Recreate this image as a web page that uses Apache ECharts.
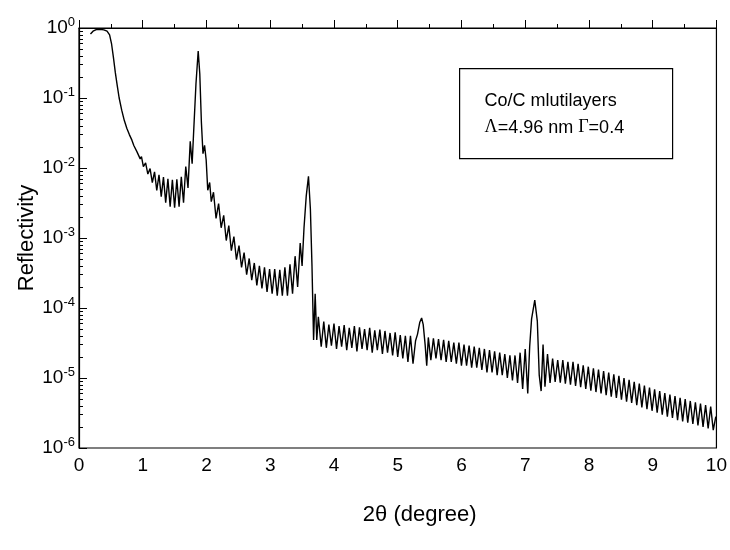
<!DOCTYPE html>
<html>
<head>
<meta charset="utf-8">
<script src="https://cdn.jsdelivr.net/npm/echarts@6/dist/echarts.min.js"></script>
<style>
  html, body { margin: 0; padding: 0; background: #fff; }
  #chart { width: 730px; height: 550px; }
</style>
</head>
<body>
<div id="chart"></div>
<script>
// X-ray reflectivity of a Co/C multilayer: [2theta (deg), reflectivity]

// total external reflection plateau and the fall past the critical angle
const criticalRegion = [
  [0.18,0.82],[0.22,0.90],[0.27,0.95],[0.33,0.96],[0.39,0.94],[0.44,0.90],[0.48,0.80],
  [0.51,0.60],[0.54,0.38],[0.57,0.23],[0.60,0.15],[0.63,0.10],[0.67,0.067],[0.71,0.048],
  [0.75,0.037],[0.79,0.030],[0.83,0.025],[0.86,0.021],[0.88,0.022],[0.91,0.017],
  [0.93,0.018],[0.96,0.0135],[0.98,0.0145]
];

// fringes leading into the 1st order Bragg peak
const firstOrder = [
  [1.01,0.0105],[1.045,0.0118],[1.08,0.0082],[1.115,0.0098],[1.15,0.0062],[1.185,0.0088],
  [1.22,0.0048],[1.255,0.0080],[1.29,0.0039],[1.325,0.0074],[1.36,0.0032],[1.395,0.0070],
  [1.43,0.0028],[1.465,0.0068],[1.50,0.0027],[1.535,0.0069],[1.57,0.0028],[1.605,0.0075],
  [1.64,0.0032],[1.675,0.0105],[1.71,0.0052],[1.745,0.024],[1.775,0.0115],[1.80,0.035],
  [1.835,0.16],[1.87,0.47],[1.895,0.22],[1.92,0.045],[1.945,0.016],[1.97,0.021],
  [1.995,0.013],[2.02,0.0048],[2.05,0.0062],[2.075,0.0033]
];

// Kiessig fringes between the 1st and 2nd order peaks, 2nd order peak
const secondOrder = [
  [2.11,0.0045],[2.15,0.0019],[2.19,0.0031],[2.23,0.0014],[2.27,0.0021],[2.31,0.00092],
  [2.35,0.0015],[2.39,0.00066],[2.43,0.00105],[2.47,0.00049],[2.51,0.00078],[2.55,0.00038],
  [2.59,0.00062],[2.63,0.00030],[2.67,0.00051],[2.71,0.00025],[2.75,0.00044],[2.79,0.00021],
  [2.83,0.00040],[2.87,0.00019],[2.91,0.00038],[2.95,0.00017],[2.99,0.00036],[3.03,0.00016],
  [3.07,0.00036],[3.11,0.00015],[3.15,0.00035],[3.19,0.00015],[3.23,0.00038],[3.27,0.00015],
  [3.31,0.00042],[3.35,0.00016],[3.39,0.00055],[3.43,0.00020],[3.47,0.00085],[3.50,0.00040],
  [3.53,0.0014],[3.565,0.0040],[3.60,0.0076],[3.63,0.0026],[3.655,0.00040],[3.68,0.000035],
  [3.705,0.00016],[3.73,0.000035],[3.755,0.000075]
];

// plateau between the 2nd and 3rd order peaks, weak 3rd order peak
const thirdOrder = [
  [3.80,0.000028],[3.84,0.000064],[3.88,0.000027],[3.92,0.000058],[3.96,0.000029],
  [4.00,0.000060],[4.04,0.000026],[4.08,0.000055],[4.12,0.000028],[4.16,0.000057],
  [4.20,0.000025],[4.24,0.000052],[4.28,0.000027],[4.32,0.000055],[4.36,0.000024],
  [4.40,0.000053],[4.44,0.000026],[4.48,0.000050],[4.52,0.000025],[4.56,0.000052],
  [4.60,0.000023],[4.64,0.000048],[4.68,0.000025],[4.72,0.000049],[4.76,0.000022],
  [4.80,0.000047],[4.84,0.000023],[4.88,0.000044],[4.92,0.000021],[4.96,0.000045],
  [5.00,0.000020],[5.04,0.000041],[5.08,0.000019],[5.12,0.000040],[5.16,0.000017],
  [5.20,0.000040],[5.24,0.000016],[5.28,0.000034],[5.31,0.000042],[5.345,0.000062],
  [5.375,0.000072],[5.40,0.000058],[5.43,0.000030],[5.455,0.000015],[5.48,0.000038],
  [5.52,0.000018],[5.56,0.000037]
];

// plateau between the 3rd and 4th order peaks, 4th order peak
const fourthOrder = [
  [5.60,0.000019],[5.64,0.000036],[5.68,0.000018],[5.72,0.000035],[5.76,0.000017],
  [5.80,0.000034],[5.84,0.000017],[5.88,0.000032],[5.92,0.000016],[5.96,0.000032],
  [6.00,0.000015],[6.04,0.000030],[6.08,0.000015],[6.12,0.000029],[6.16,0.000014],
  [6.20,0.000028],[6.24,0.000014],[6.28,0.000027],[6.32,0.000013],[6.36,0.000026],
  [6.40,0.000012],[6.44,0.000025],[6.48,0.000012],[6.52,0.000024],[6.56,0.000011],
  [6.60,0.000023],[6.64,0.000011],[6.68,0.000022],[6.72,0.000010],[6.76,0.000021],
  [6.80,0.0000092],[6.84,0.000021],[6.88,0.0000085],[6.92,0.000023],[6.96,0.0000070],
  [7.00,0.000026],[7.04,0.0000060],[7.07,0.000028],[7.10,0.000070],[7.15,0.00013],
  [7.19,0.000065],[7.22,0.000011],[7.25,0.0000065],[7.28,0.000030],[7.31,0.0000075]
];

// high-angle tail
const tail = [
  [7.35,0.000022],[7.39,0.0000085],[7.43,0.000019],[7.47,0.0000088],[7.51,0.000018],
  [7.55,0.0000086],[7.59,0.000018],[7.63,0.0000083],[7.67,0.000017],[7.71,0.0000080],
  [7.75,0.000017],[7.79,0.0000077],[7.83,0.000016],[7.87,0.0000074],[7.91,0.0000152],
  [7.95,0.0000070],[7.99,0.0000145],[8.03,0.0000066],[8.07,0.0000138],[8.11,0.0000063],
  [8.15,0.0000132],[8.19,0.0000060],[8.23,0.0000126],[8.27,0.0000057],[8.31,0.0000120],
  [8.35,0.0000054],[8.39,0.0000113],[8.43,0.0000052],[8.47,0.0000107],[8.51,0.0000049],
  [8.55,0.0000100],[8.59,0.0000046],[8.63,0.0000094],[8.67,0.0000044],[8.71,0.0000088],
  [8.75,0.0000041],[8.79,0.0000083],[8.83,0.0000038],[8.87,0.0000078],[8.91,0.0000036],
  [8.95,0.0000073],[8.99,0.0000034],[9.03,0.0000069],[9.07,0.0000032],[9.11,0.0000065],
  [9.15,0.0000030],[9.19,0.0000061],[9.23,0.0000028],[9.27,0.0000058],[9.31,0.0000027],
  [9.35,0.0000055],[9.39,0.0000025],[9.43,0.0000052],[9.47,0.0000024],[9.51,0.0000050],
  [9.55,0.0000023],[9.59,0.0000047],[9.63,0.0000022],[9.67,0.0000045],[9.71,0.0000021],
  [9.75,0.0000043],[9.79,0.0000020],[9.83,0.0000041],[9.87,0.0000019],[9.91,0.0000039],
  [9.95,0.0000018],[9.99,0.0000028]
];

// axis ticks
const xTickStep = 1;
const decadeExponents = [-6, -5, -4, -3, -2, -1, 0];
const minorMultipliers = [2, 3, 4, 5, 6, 7, 8, 9];

const reflectivity = [].concat(criticalRegion, firstOrder, secondOrder, thirdOrder, fourthOrder, tail);

// minor ticks of the log axis, in decade units
const minorTickValues = [];
decadeExponents.slice(0, -1).forEach(function (n) {
  minorMultipliers.forEach(function (k) { minorTickValues.push(n + Math.log10(k)); });
});

const FONT = '"Liberation Sans", Arial, Helvetica, sans-serif';
const BLACK = '#000';

const chart = echarts.init(document.getElementById('chart'), null, { renderer: 'canvas' });

chart.setOption({
  animation: false,
  backgroundColor: '#fff',
  grid: {
    left: 79, right: 12, top: 28, bottom: 102,
    show: true, borderColor: BLACK, borderWidth: 1.2, backgroundColor: 'transparent'
  },
  xAxis: {
    type: 'value', min: 0, max: 10, interval: xTickStep,
    axisLine: { lineStyle: { color: BLACK, width: 1.2 } },
    axisTick: { inside: true, length: 8, lineStyle: { color: BLACK, width: 1 } },
    minorTick: { show: true, splitNumber: 2, length: 4, lineStyle: { color: BLACK, width: 1 } },
    splitLine: { show: false },
    axisLabel: { color: BLACK, fontSize: 19, fontFamily: FONT, margin: 8 },
    name: '2\u03B8 (degree)', nameLocation: 'middle', nameGap: 56, nameMoveOverlap: false,
    nameTextStyle: { color: BLACK, fontSize: 22, fontFamily: FONT, padding: [0, 0, 0, 44] }
  },
  yAxis: [
    {
      type: 'log', logBase: 10, min: 1e-6, max: 1, position: 'left', show: false
    },
    {
      type: 'value', min: decadeExponents[0], max: decadeExponents[decadeExponents.length - 1],
      interval: 1, position: 'left',
      axisLine: { show: true, lineStyle: { color: BLACK, width: 1.2 } },
      axisTick: { inside: true, length: 8, lineStyle: { color: BLACK, width: 1 } },
      splitLine: { show: false },
      axisLabel: {
        margin: 4,
        formatter: function (v) { return '{b|10}{s|' + v + '}'; },
        rich: {
          b: { fontSize: 19, fontFamily: FONT, color: BLACK, lineHeight: 24 },
          s: { fontSize: 13, fontFamily: FONT, color: BLACK, verticalAlign: 'top', lineHeight: 13, padding: [0, 0, 8, 0] }
        }
      },
      name: 'Reflectivity', nameLocation: 'middle', nameGap: 41, nameRotate: 90, nameMoveOverlap: false,
      nameTextStyle: { color: BLACK, fontSize: 22, fontFamily: FONT }
    },
    {
      type: 'value', min: decadeExponents[0], max: decadeExponents[decadeExponents.length - 1],
      position: 'left',
      axisLine: { show: false },
      axisLabel: { show: false },
      splitLine: { show: false },
      axisTick: { inside: true, length: 4, customValues: minorTickValues, lineStyle: { color: BLACK, width: 1 } }
    }
  ],
  graphic: [{
    type: 'group', left: 459, top: 68,
    children: [
      { type: 'rect', shape: { x: 0, y: 0, width: 213, height: 90 },
        style: { fill: '#fff', stroke: BLACK, lineWidth: 1.2 } },
      { type: 'text', x: 25, y: 23,
        style: { text: 'Co/C mlutilayers', fontSize: 18, fontFamily: FONT, fill: BLACK } },
      { type: 'text', x: 25, y: 50,
        style: {
          text: '{g|\u039B}=4.96 nm {g|\u0393}=0.4', fontSize: 18, fontFamily: FONT, fill: BLACK,
          rich: { g: { fontSize: 18, fontFamily: '"Liberation Serif", "DejaVu Serif", serif', fill: BLACK } }
        } }
    ]
  }],
  series: [{
    type: 'line',
    xAxisIndex: 0,
    yAxisIndex: 0,
    data: reflectivity,
    symbol: 'none',
    showSymbol: false,
    smooth: false,
    lineStyle: { color: BLACK, width: 1.4 },
    z: 3
  }]
});
</script>
</body>
</html>
